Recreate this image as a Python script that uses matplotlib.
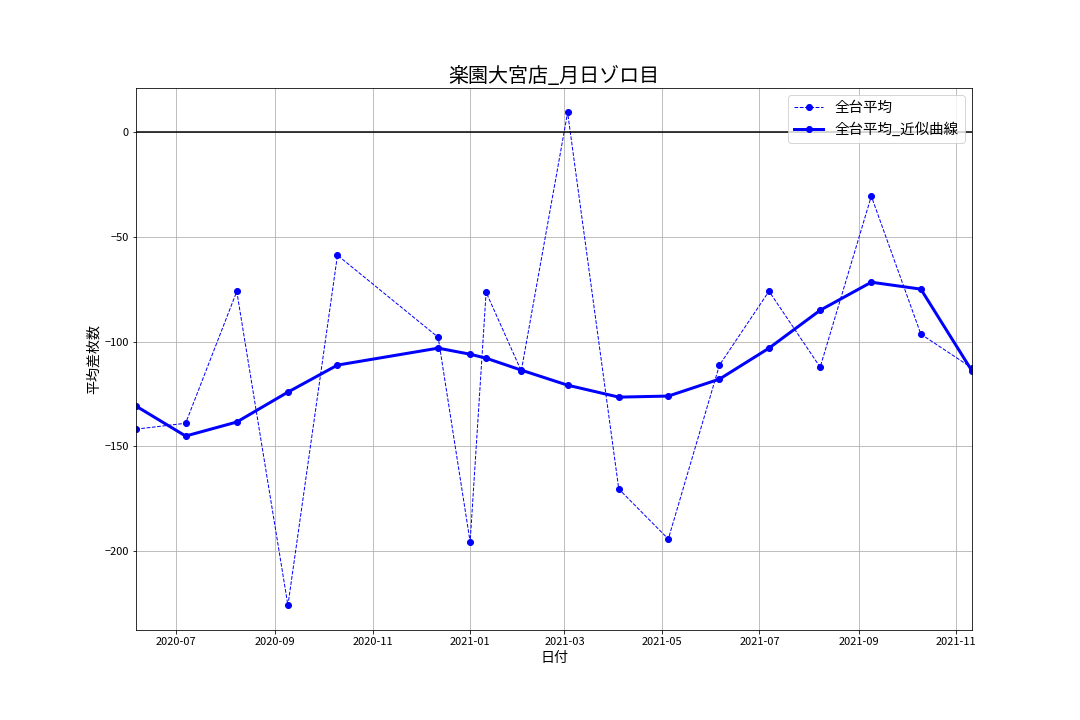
import matplotlib
matplotlib.use("Agg")
import matplotlib.pyplot as plt
import matplotlib.dates as mdates
import pandas as pd

plt.rcParams['font.family'] = ['Noto Sans CJK JP', 'DejaVu Sans']

# データ
dates = pd.to_datetime([
    "2020-06-06", "2020-07-07", "2020-08-08", "2020-09-09", "2020-10-10",
    "2020-12-12", "2021-01-01", "2021-01-11", "2021-02-02", "2021-03-03",
    "2021-04-04", "2021-05-05", "2021-06-06", "2021-07-07", "2021-08-08",
    "2021-09-09", "2021-10-10", "2021-11-11",
])
avg_diff = [-141.8, -139.0, -76.0, -226.0, -58.7, -97.9, -195.7, -76.4, -114.0,
            9.5, -170.4, -194.3, -111.2, -75.9, -112.2, -30.5, -96.4, -112.6]
avg_smooth = [-130.8, -145.1, -138.4, -124.1, -111.2, -103.1, -106.0, -107.9, -113.6,
              -120.8, -126.5, -126.0, -117.9, -103.1, -85.0, -71.6, -74.9, -114.0]

fig = plt.figure(figsize=(15, 10), dpi=72)
ax = fig.add_axes([0.126, 0.125, 0.774, 0.753])

ax.plot(dates, avg_diff, color='blue', linestyle='--', linewidth=1, marker='o', markersize=6, label='全台平均')
ax.plot(dates, avg_smooth, color='blue', linestyle='-', linewidth=3, marker='o', markersize=6, label='全台平均_近似曲線')
ax.axhline(0, color='black', linewidth=1.5)

ax.set_xlim(dates[0], dates[-1])
ax.xaxis.set_major_locator(mdates.MonthLocator(bymonth=[1, 3, 5, 7, 9, 11]))
ax.xaxis.set_major_formatter(mdates.DateFormatter('%Y-%m'))
ax.tick_params(labelsize=11)
ax.grid(True)

ax.set_title('楽園大宮店_月日ゾロ目', fontsize=20)
ax.set_xlabel('日付', fontsize=14)
ax.set_ylabel('平均差枚数', fontsize=14)
ax.legend(loc='upper right', fontsize=14.5)

fig.savefig('out.png', dpi=72)
